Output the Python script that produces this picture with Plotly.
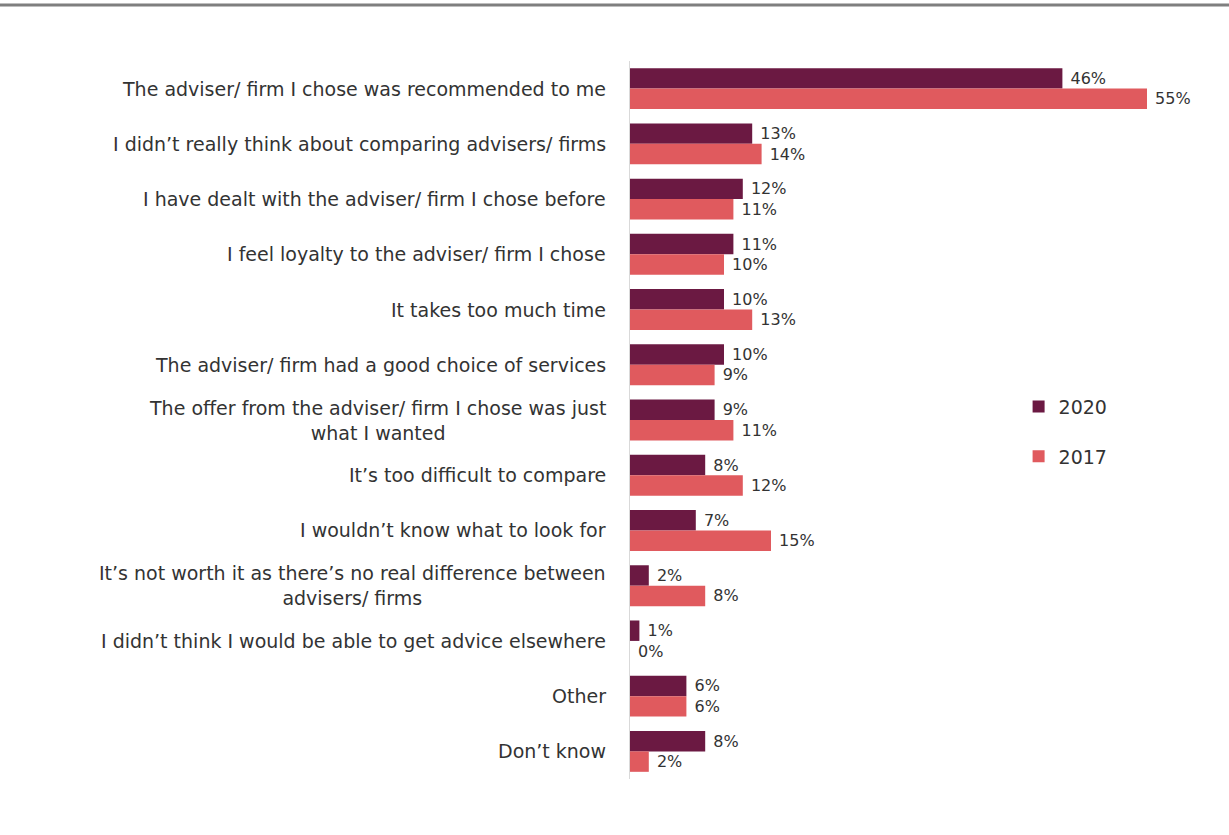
import plotly.graph_objects as go

categories = [
    "The adviser/ firm I chose was recommended to me",
    "I didn’t really think about comparing advisers/ firms",
    "I have dealt with the adviser/ firm I chose before",
    "I feel loyalty to the adviser/ firm I chose",
    "It takes too much time",
    "The adviser/ firm had a good choice of services",
    "The offer from the adviser/ firm I chose was just<br>what I wanted",
    "It’s too difficult to compare",
    "I wouldn’t know what to look for",
    "It’s not worth it as there’s no real difference between<br>advisers/ firms",
    "I didn’t think I would be able to get advice elsewhere",
    "Other",
    "Don’t know",
]
values_2020 = [46, 13, 12, 11, 10, 10, 9, 8, 7, 2, 1, 6, 8]
values_2017 = [55, 14, 11, 10, 13, 9, 11, 12, 15, 8, 0, 6, 2]

FONT = "DejaVu Sans"
TEXT_COLOR = "#333333"

fig = go.Figure()
for name, vals, color, grp in [
    ("2020", values_2020, "#6B1942", "a"),
    ("2017", values_2017, "#E05A5E", "b"),
]:
    fig.add_trace(go.Bar(
        y=categories, x=vals, name=name, orientation="h",
        marker=dict(color=color, line=dict(width=0)),
        text=[f" {v}%" for v in vals], textposition="outside",
        textfont=dict(family=FONT, size=16, color=TEXT_COLOR),
        cliponaxis=False, legendgroup=grp,
    ))

# category labels, centred line-by-line and right-anchored next to the axis
for cat in categories:
    fig.add_annotation(
        x=-0.039, xref="paper", y=cat, yref="y",
        text=cat, showarrow=False, xanchor="right", yanchor="middle",
        align="center", font=dict(family=FONT, size=19, color=TEXT_COLOR),
    )

# thin grey rule across the top of the page
fig.add_shape(type="line", xref="paper", yref="paper",
              x0=-1.2, x1=1.2, y0=1.078, y1=1.078,
              line=dict(color="#7f7f7f", width=3))

fig.update_layout(
    width=1229, height=835,
    margin=dict(l=630, r=35, t=61, b=56),
    paper_bgcolor="white", plot_bgcolor="white",
    barmode="group", bargap=0.26, bargroupgap=0,
    font=dict(family=FONT, size=16, color=TEXT_COLOR),
    showlegend=True,
    legend=dict(x=0.689, y=0.545, xanchor="left", yanchor="top",
                traceorder="grouped", tracegroupgap=22,
                itemwidth=30,
                font=dict(family=FONT, size=19, color=TEXT_COLOR),
                bgcolor="rgba(0,0,0,0)"),
    xaxis=dict(range=[0, 60], visible=False, fixedrange=True),
    yaxis=dict(autorange="reversed", showticklabels=False, ticks="",
               showline=True, linecolor="#d9d9d9", linewidth=1,
               showgrid=False, zeroline=False),
)

fig.write_html("out.html")
